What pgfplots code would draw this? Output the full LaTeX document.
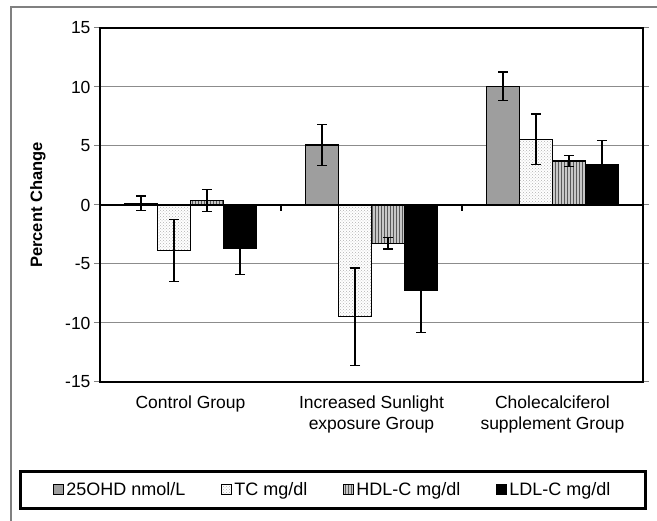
\documentclass[border=0pt]{standalone}
\usepackage{fontspec}
\setmainfont{Liberation Sans}
\usepackage{pgfplots}
\pgfplotsset{compat=1.18}
\usetikzlibrary{patterns}
\begin{document}
\begin{tikzpicture}
\useasboundingbox (0pt,0pt) rectangle (657pt,521pt);
\draw[black!50, line width=1.5pt] (11pt,0pt) -- (11pt,514pt) -- (657pt,514pt);
\begin{axis}[
  at={(100pt,139pt)}, anchor=south west,
  width=543pt, height=354pt, scale only axis,
  ybar=0pt, bar width=0.182,
  xmin=-0.5, xmax=2.5, ymin=-15, ymax=15,
  xtick={0,1,2},
  xticklabels={Control Group, Increased Sunlight\\exposure Group, Cholecalciferol\\supplement Group},
  x tick label style={align=center, font=\fontsize{17.5}{21}\selectfont, yshift=-4pt},
  major x tick style={draw=none},
  ytick={-15,-10,-5,0,5,10,15},
  yticklabels={-15,-10,-5,0,5,10,15},
  y tick label style={font=\fontsize{17.5}{21}\selectfont},
  tick align=outside, major tick length=6pt,
  major y tick style={black!50, line width=1pt},
  ymajorgrids, major grid style={black!45, line width=1pt},
  axis line style={black, line width=1.3pt},
  ylabel={Percent Change},
  ylabel style={at={(axis description cs:0,0.5)}, anchor=center, rotate=0, yshift=62pt, font=\fontsize{16.5}{20}\selectfont\bfseries},
  every axis plot/.append style={draw=black, line width=1.2pt},
  error bars/error bar style={black, line width=1.3pt},
  error bars/error mark options={black, line width=1.3pt, mark size=5pt, rotate=90},
  legend columns=4,
  legend style={at={(axis description cs:0.429,-0.305)}, anchor=center,
    draw=black, line width=3pt, inner xsep=33pt, inner ysep=9pt,
    font=\fontsize{18}{21}\selectfont,
    nodes={inner xsep=2pt},
    /tikz/every even column/.append style={column sep=34pt}},
  legend cell align=left,
]
\pgfplotsset{sqleg/.style={legend image code/.code={\draw[##1, line width=1pt] (0pt,-5pt) rectangle (10pt,5pt);}}}
\addplot[fill=black!38, sqleg, error bars/.cd, y dir=both, y explicit] table[x=x, y=y, y error=e] {
x y e
0 0.15 0.6
1 5.08 1.75
2 10.06 1.2
};
\addlegendentry{25OHD nmol/L}
\addplot[fill=white, postaction={pattern=crosshatch dots, pattern color=black!30}, sqleg, error bars/.cd, y dir=both, y explicit] table[x=x, y=y, y error=e] {
x y e
0 -3.85 2.65
1 -9.46 4.12
2 5.56 2.15
};
\addlegendentry{TC mg/dl}
\addplot[fill=black!22, postaction={pattern=vertical lines, pattern color=black!65}, sqleg, error bars/.cd, y dir=both, y explicit] table[x=x, y=y, y error=e] {
x y e
0 0.38 0.95
1 -3.25 0.47
2 3.73 0.47
};
\addlegendentry{HDL-C mg/dl}
\addplot[fill=black, sqleg, error bars/.cd, y dir=both, y explicit] table[x=x, y=y, y error=e] {
x y e
0 -3.67 2.2
1 -7.26 3.55
2 3.45 2.0
};
\addlegendentry{LDL-C mg/dl}
\draw[black, line width=1.3pt] (axis cs:-0.5,0) -- (axis cs:2.5,0);
\draw[black, line width=1.2pt] (axis cs:0.5,0) -- ++(0pt,-6pt);
\draw[black, line width=1.2pt] (axis cs:1.5,0) -- ++(0pt,-6pt);
\end{axis}
\end{tikzpicture}
\end{document}
